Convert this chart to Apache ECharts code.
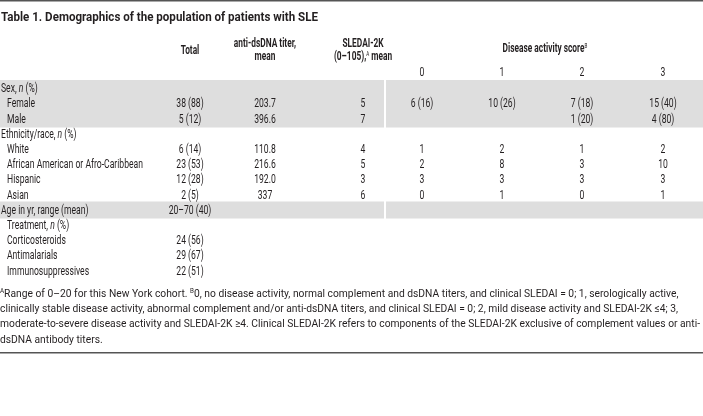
<!DOCTYPE html>
<html><head><meta charset="utf-8">
<script src="https://cdn.jsdelivr.net/npm/echarts@6/dist/echarts.min.js"></script>
<style>html,body{margin:0;padding:0;background:#fff}#c{width:703px;height:416px}</style>
</head><body><div id="c"></div>
<script>
// ---------- DATA ----------
const title = 'Table 1. Demographics of the population of patients with SLE';
const rowLabels = ['Sex, {i|n} (%)','Female','Male','Ethnicity/race, {i|n} (%)','White','African American or Afro-Caribbean','Hispanic','Asian','Age in yr, range (mean)','Treatment, {i|n} (%)','Corticosteroids','Antimalarials','Immunosuppressives'];
const rowIndent = [0,1,1,0,1,1,1,1,0,1,1,1,1];
const totalCol  = ['', '38 (88)', '5 (12)', '', '6 (14)', '23 (53)', '12 (28)', '2 (5)', '20–70 (40)', '', '24 (56)', '29 (67)', '22 (51)'];
const antiDsDNA = ['', '203.7', '396.6', '', '110.8', '216.6', '192.0', '337', '', '', '', '', ''];
const sledai    = ['', '5', '7', '', '4', '5', '3', '6', '', '', '', '', ''];
const score0    = ['', '6 (16)', '', '', '1', '2', '3', '0', '', '', '', '', ''];
const score1    = ['', '10 (26)', '', '', '2', '8', '3', '1', '', '', '', '', ''];
const score2    = ['', '7 (18)', '1 (20)', '', '1', '3', '3', '0', '', '', '', '', ''];
const score3    = ['', '15 (40)', '4 (80)', '', '2', '10', '3', '1', '', '', '', '', ''];
const columnHeads = ['Total', 'anti-dsDNA titer,\nmean', 'SLEDAI-2K\n(0–105),{sup|A} mean'];
const scoreGroupHead = 'Disease activity score{sup|B}';
const scoreLevels = ['0', '1', '2', '3'];
const footnote = [
  '{sup|A}Range of 0–20 for this New York cohort. {sup|B}0, no disease activity, normal complement and dsDNA titers, and clinical SLEDAI = 0; 1, serologically active,',
  'clinically stable disease activity, abnormal complement and/or anti-dsDNA titers, and clinical SLEDAI = 0; 2, mild disease activity and SLEDAI-2K ≤4; 3,',
  'moderate-to-severe disease activity and SLEDAI-2K ≥4. Clinical SLEDAI-2K refers to components of the SLEDAI-2K exclusive of complement values or anti-',
  'dsDNA antibody titers.'
];
const bandRows = [[0, 2], [8, 8]];

// ---------- LAYOUT / STYLE ----------
const W = 703, H = 416;
const L = {
  labelX: 1, indentX: 7,
  colX: [190, 265, 363, 422, 502, 582, 663],
  headY: 50.5, groupHeadY: 49, levelY: 73, groupHeadX: 545,
  rowY0: 89, rowStep: 15.2,
  bandPadTop: 9, bandPadBot: 8, gapX: 384, gapW: 2,
  titleY: 18, footY0: 294, footStep: 15.3,
  topLineY: 0, bottomLineY: 352, lineW: 1.5
};
const INK = '#231f20', BAND = '#dedede', RULE = '#555555';
const FAM = 'Roboto, "Liberation Sans", sans-serif';
const tableSize = 12.8, titleSize = 13, footSize = 11.5;

function measure(txt, weight, size) {
  const c = document.createElement('canvas').getContext('2d');
  c.font = weight + ' ' + size + 'px ' + FAM;
  return c.measureText(txt.replace(/\{\w+\|([^}]*)\}/g, '$1')).width;
}
const sTable = 136 / measure('African American or Afro-Caribbean', 'normal', tableSize);
const sHead = sTable * 0.97;
const sTitle = 317 / measure(title, 'bold', titleSize);
const sFoot = 700 / measure(footnote[2], 'normal', footSize);

const rich = (size) => ({
  i: { fontStyle: 'italic', fontSize: size, fontFamily: FAM, fill: INK },
  sup: { fontSize: 7, fontFamily: FAM, verticalAlign: 'top', fill: INK }
});

// Build text cells
const rowY = i => L.rowY0 + i * L.rowStep;
const cells = [];
cells.push({ x: 1, y: L.titleY, t: title, w: 'bold', s: titleSize, sx: sTitle, a: 'left' });
rowLabels.forEach((lab, i) => cells.push({ x: rowIndent[i] ? L.indentX : L.labelX, y: rowY(i), t: lab, w: 'normal', s: tableSize, sx: sTable, a: 'left' }));
[totalCol, antiDsDNA, sledai, score0, score1, score2, score3].forEach((col, c) => {
  col.forEach((v, i) => { if (v) cells.push({ x: L.colX[c], y: rowY(i), t: v, w: 'normal', s: tableSize, sx: sTable, a: 'center' }); });
});
columnHeads.forEach((h, c) => cells.push({ x: L.colX[c], y: L.headY, t: h, w: 'bold', s: tableSize, sx: sHead, a: 'center' }));
cells.push({ x: L.groupHeadX, y: L.groupHeadY, t: scoreGroupHead, w: 'bold', s: tableSize, sx: sHead, a: 'center' });
scoreLevels.forEach((h, k) => cells.push({ x: L.colX[3 + k], y: L.levelY, t: h, w: 'normal', s: tableSize, sx: sTable, a: 'center' }));
footnote.forEach((f, k) => cells.push({ x: 0, y: L.footY0 + k * L.footStep, t: f, w: 'normal', s: footSize, sx: sFoot, a: 'left' }));

// Rectangles: bands + rules
const rects = [];
bandRows.forEach(([a, b]) => {
  const y0 = rowY(a) - L.bandPadTop, y1 = rowY(b) + L.bandPadBot;
  rects.push({ x0: 0, x1: L.gapX, y0, y1, fill: BAND });
  rects.push({ x0: L.gapX + L.gapW, x1: W, y0, y1, fill: BAND });
});
rects.push({ x0: 0, x1: W, y0: L.topLineY, y1: L.topLineY + L.lineW, fill: RULE });
rects.push({ x0: 0, x1: W, y0: L.bottomLineY, y1: L.bottomLineY + L.lineW, fill: RULE });

const chart = echarts.init(document.getElementById('c'));
chart.setOption({
  animation: false,
  grid: { left: 0, right: 0, top: 0, bottom: 0 },
  xAxis: { type: 'value', min: 0, max: W, show: false },
  yAxis: { type: 'value', min: 0, max: H, inverse: true, show: false },
  series: [
    {
      type: 'custom', clip: false, silent: true,
      data: rects.map(r => [r.x0, r.y0, r.x1, r.y1]),
      renderItem: (params, api) => {
        const p0 = api.coord([api.value(0), api.value(1)]);
        const p1 = api.coord([api.value(2), api.value(3)]);
        return { type: 'rect', shape: { x: p0[0], y: p0[1], width: p1[0] - p0[0], height: p1[1] - p0[1] },
                 style: { fill: rects[params.dataIndex].fill } };
      }
    },
    {
      type: 'custom', clip: false, silent: true,
      data: cells.map(c => [c.x, c.y]),
      renderItem: (params, api) => {
        const c = cells[params.dataIndex];
        const p = api.coord([api.value(0), api.value(1)]);
        return { type: 'text', x: p[0], y: p[1], scaleX: c.sx,
          style: { text: c.t, fontSize: c.s, fontFamily: FAM, fontWeight: c.w, fill: INK,
                   align: c.a, verticalAlign: 'middle', lineHeight: 13, rich: rich(c.s) } };
      }
    }
  ]
});
</script></body></html>
